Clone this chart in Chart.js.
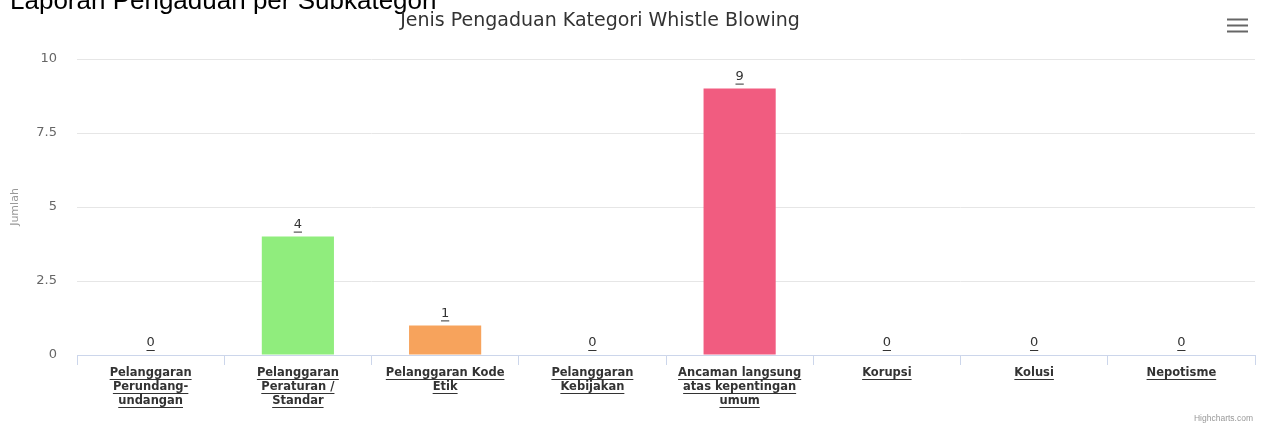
<!DOCTYPE html>
<html><head><meta charset="utf-8">
<script src="https://cdn.jsdelivr.net/npm/chart.js@4"></script>
<style>html,body{margin:0;padding:0;background:#fff;overflow:hidden}#wrap{position:relative;width:1264px;height:426px}</style>
</head><body><div id="wrap"><canvas id="c" width="1264" height="426"></canvas></div>
<script>
const pageHeading = 'Laporan Pengaduan per Subkategori';
const chartTitle = 'Jenis Pengaduan Kategori Whistle Blowing';
const yAxisTitle = 'Jumlah';
const categories = [
  ['Pelanggaran', 'Perundang-', 'undangan'],
  ['Pelanggaran', 'Peraturan /', 'Standar'],
  ['Pelanggaran Kode', 'Etik'],
  ['Pelanggaran', 'Kebijakan'],
  ['Ancaman langsung', 'atas kepentingan', 'umum'],
  ['Korupsi'],
  ['Kolusi'],
  ['Nepotisme']
];
const values = [0, 4, 1, 0, 9, 0, 0, 0];
const barColors = ['#434348', '#90ed7d', '#f7a35c', '#8085e9', '#f15c80', '#e4d354', '#2b908f', '#f45b5b'];
const yTicks = [0, 2.5, 5, 7.5, 10];
const creditText = 'Highcharts.com';

const decor = {
  id: 'decor',
  afterDraw(chart) {
    const ctx = chart.ctx;
    const xs = chart.scales.x;
    ctx.save();
    // page heading (cut at top)
    ctx.fillStyle = '#000';
    ctx.font = '26px "Liberation Sans", sans-serif';
    ctx.textAlign = 'left';
    ctx.textBaseline = 'alphabetic';
    ctx.fillText(pageHeading, 10, 9);
    // chart title
    ctx.fillStyle = '#333';
    ctx.font = '19px "DejaVu Sans", sans-serif';
    ctx.textAlign = 'center';
    ctx.textBaseline = 'middle';
    ctx.fillText(chartTitle, 600, 21);
    // menu icon
    ctx.strokeStyle = '#666';
    ctx.lineWidth = 2;
    [19.5, 25.5, 31.5].forEach(y => {
      ctx.beginPath(); ctx.moveTo(1227, y); ctx.lineTo(1248, y); ctx.stroke();
    });
    // x category labels
    ctx.font = 'bold 11.5px "DejaVu Sans", sans-serif';
    ctx.fillStyle = '#333';
    ctx.strokeStyle = '#333';
    ctx.lineWidth = 1;
    categories.forEach((lines, i) => {
      const x = xs.getPixelForValue(i);
      lines.forEach((t, j) => {
        const y = 373 + 14 * j;
        ctx.fillText(t, x, y);
        const w = ctx.measureText(t).width;
        ctx.beginPath(); ctx.moveTo(x - w / 2, y + 6.5); ctx.lineTo(x + w / 2, y + 6.5); ctx.stroke();
      });
    });
    // data labels
    ctx.font = '13px "DejaVu Sans", sans-serif';
    const meta = chart.getDatasetMeta(0);
    meta.data.forEach((el, i) => {
      const t = String(values[i]);
      const y = el.y - 12;
      ctx.fillText(t, el.x, y);
      const w = ctx.measureText(t).width;
      ctx.beginPath(); ctx.moveTo(el.x - w / 2, y + 7.5); ctx.lineTo(el.x + w / 2, y + 7.5); ctx.stroke();
    });
    // credits
    ctx.font = '8.5px "Liberation Sans", sans-serif';
    ctx.fillStyle = '#999';
    ctx.textAlign = 'right';
    ctx.fillText(creditText, 1253, 419);
    ctx.restore();
  }
};

new Chart(document.getElementById('c'), {
  type: 'bar',
  data: {
    labels: categories,
    datasets: [{
      data: values,
      backgroundColor: barColors,
      borderWidth: 0,
      categoryPercentage: 1,
      barPercentage: 0.49
    }]
  },
  options: {
    responsive: false,
    animation: false,
    devicePixelRatio: 1,
    layout: { padding: { left: 0, right: 9, top: 59, bottom: 0 } },
    plugins: { legend: { display: false }, tooltip: { enabled: false }, title: { display: false } },
    scales: {
      x: {
        afterFit(s) { s.height = 71; },
        grid: { offset: true, drawOnChartArea: false, drawTicks: true, tickLength: 10, color: '#ccd6eb' },
        border: { color: '#ccd6eb', width: 1 },
        ticks: { display: false }
      },
      y: {
        min: 0, max: 10,
        afterFit(s) { s.width = 77; },
        afterBuildTicks(s) { s.ticks = yTicks.map(v => ({ value: v })); },
        grid: { color: '#e6e6e6', drawTicks: false },
        border: { display: false },
        ticks: { color: '#666', font: { family: 'DejaVu Sans', size: 13 }, padding: 20 },
        title: { display: true, text: yAxisTitle, color: '#999', font: { family: 'DejaVu Sans', size: 11 }, padding: { top: 9, bottom: 0 } }
      }
    }
  },
  plugins: [decor]
});
</script>
</body></html>
